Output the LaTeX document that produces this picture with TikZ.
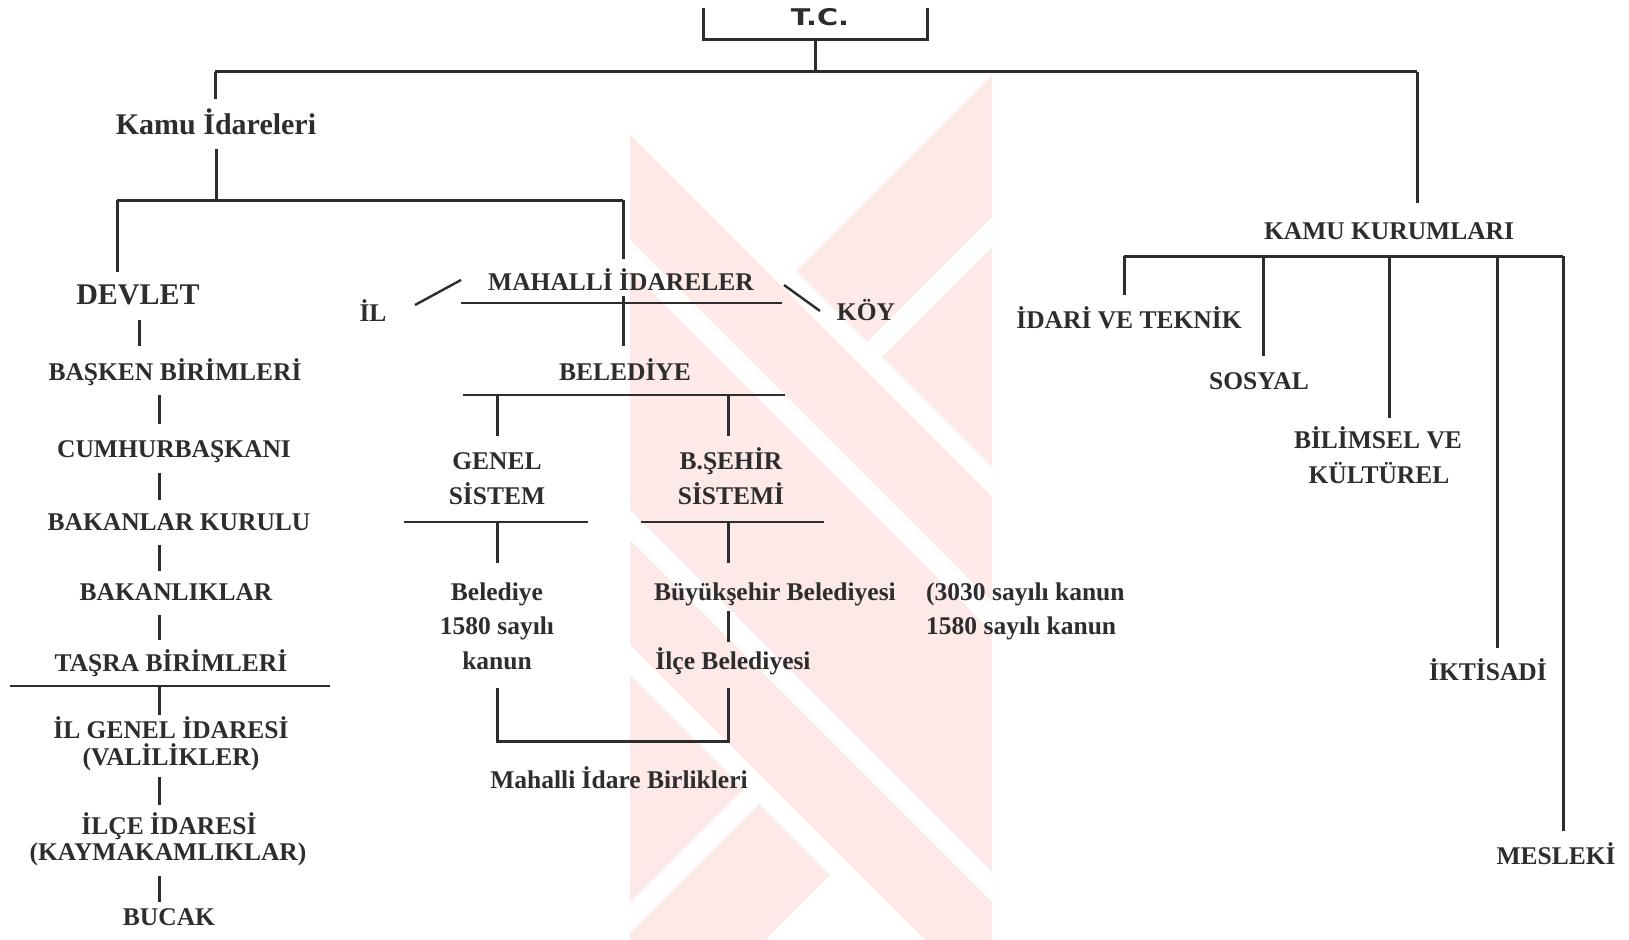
\documentclass[tikz,border=0pt]{standalone}
\usepackage{fontspec}
\setmainfont{Liberation Serif}
\newfontfamily\tcfont{DejaVu Sans}
\definecolor{ink}{RGB}{45,45,45}
\definecolor{wm}{RGB}{253,233,231}
\begin{document}
\begin{tikzpicture}[x=1pt,y=-1pt,
  lbl/.style={inner sep=0pt, anchor=base, text=ink, font=\bfseries\fontsize{25.5}{30}\selectfont},
  big/.style={lbl, font=\bfseries\fontsize{30}{34}\selectfont},
  ln/.style={draw=ink, line width=3pt},
  ul/.style={draw=ink, line width=2.4pt},
  wstripe/.style={fill=white, draw=none}]
\useasboundingbox (0,0) rectangle (1629,939);
\fill[white] (0,0) rectangle (1629,939);
% ---- watermark ----
\begin{scope}
  \clip (630,0) rectangle (992,939);
  % band B (slope -1)
  \fill[wm] (500,567) -- (1100,-33) -- (1100,605) -- (500,1205) -- cycle;
  \fill[wstripe] (500,709) -- (1100,109) -- (1100,139) -- (500,739) -- cycle;
  \fill[wstripe] (500,1033) -- (1100,433) -- (1100,463) -- (500,1063) -- cycle;
  % outline of band A
  \fill[wstripe] (500,-25) -- (1100,575) -- (1100,1145) -- (500,545) -- cycle;
  % band A (slope +1)
  \fill[wm] (500,5) -- (1100,605) -- (1100,1115) -- (500,515) -- cycle;
  \fill[wstripe] (500,110) -- (1100,710) -- (1100,740) -- (500,140) -- cycle;
  \fill[wstripe] (500,380) -- (1100,980) -- (1100,1010) -- (500,410) -- cycle;
\end{scope}
% ---- top ----
\node[inner sep=0pt, anchor=base, text=ink] (tc) at (820,26)
  {\scalebox{1.25}[1]{\tcfont\bfseries\fontsize{23}{26}\selectfont T.C.}};
\draw[ln] (703,8) coordinate (tcl) -- (703,40) -- (927,40) -- (927,8) coordinate (tcr);
\draw[ln] (815,40) coordinate (tcb) -- (815,72) coordinate (topj);
\draw[ln] (215,72) coordinate (topl) -- (1417,72) coordinate (topr);
% ---- Kamu Idareleri ----
\node[big] (kamu) at (216,135) {Kamu İdareleri};
\draw[ln] (topl) -- (215,99) coordinate (kamut);
\draw[ln] (216,149) coordinate (kamub) -- (216,200) coordinate (kamuj);
\draw[ln] (117,200) coordinate (barl) -- (623,200) coordinate (barr);
\node[big] (devlet) at (138,304) {DEVLET};
\draw[ln] (barl) -- (117,272) coordinate (devt);
\node[lbl] (mah) at (621,290) {MAHALLİ İDARELER};
\draw[ln] (barr) -- (623,259) coordinate (maht);
\draw[ul] (461,303) coordinate (mahul) -- (782,303) coordinate (mahur);
\draw[ln] (623,296) coordinate (mahb) -- (623,346) coordinate (belt);
\node[lbl] (il) at (373,321) {İL};
\node[lbl] (koy) at (866,320) {KÖY};
\draw[ul] (415,305) coordinate (ila) -- (461,280) coordinate (ilb);
\draw[ul] (784,285) coordinate (koya) -- (820,311) coordinate (koyb);
% ---- Belediye ----
\node[lbl] (bel) at (625,380) {BELEDİYE};
\draw[ul] (463,395) coordinate (belul) -- (785,395) coordinate (belur);
\draw[ln] (497,395) coordinate (g1) -- (497,436) coordinate (g2);
\draw[ln] (728,395) coordinate (s1) -- (728,436) coordinate (s2);
\node[lbl] (gen1) at (497,469) {GENEL};
\node[lbl] (gen2) at (497,504) {SİSTEM};
\node[lbl] (bs1) at (731,469) {B.ŞEHİR};
\node[lbl] (bs2) at (731,504) {SİSTEMİ};
\draw[ul] (404,522) coordinate (genul) -- (588,522) coordinate (genur);
\draw[ul] (641,522) coordinate (bsul) -- (824,522) coordinate (bsur);
\draw[ln] (497,522) coordinate (g3) -- (497,563) coordinate (g4);
\draw[ln] (728,522) coordinate (s3) -- (728,563) coordinate (s4);
\node[lbl] (b1) at (497,600.5) {Belediye};
\node[lbl] (b2) at (497,634.5) {1580 sayılı};
\node[lbl] (b3) at (497,669) {kanun};
\node[lbl] (bb) at (775,600.5) {Büyükşehir Belediyesi};
\node[lbl] (ib) at (733,669) {İlçe Belediyesi};
\draw[ln] (728,611) coordinate (s5) -- (728,642) coordinate (s6);
\node[lbl, anchor=base west] (k1) at (926,600.5) {(3030 sayılı kanun};
\node[lbl, anchor=base west] (k2) at (926,634.5) {1580 sayılı kanun};
\draw[ln] (497,688) coordinate (brl) -- (497,741) -- (728,741) -- (728,688) coordinate (brr);
\node[lbl] (mib) at (619,788.5) {Mahalli İdare Birlikleri};
% ---- Devlet column ----
\draw[ln] (139,320) coordinate (d0a) -- (139,346) coordinate (d0b);
\node[lbl] (bas) at (175,380) {BAŞKEN BİRİMLERİ};
\draw[ln] (159,395) coordinate (d1a) -- (159,424) coordinate (d1b);
\node[lbl] (cum) at (174,457.5) {CUMHURBAŞKANI};
\draw[ln] (159,473) coordinate (d2a) -- (159,500) coordinate (d2b);
\node[lbl] (bk) at (179,530.5) {BAKANLAR KURULU};
\draw[ln] (159,545) coordinate (d3a) -- (159,571) coordinate (d3b);
\node[lbl] (bakl) at (176,600.5) {BAKANLIKLAR};
\draw[ln] (159,615) coordinate (d4a) -- (159,640) coordinate (d4b);
\node[lbl] (tas) at (171,671.5) {TAŞRA BİRİMLERİ};
\draw[ul] (10,686) coordinate (tasl) -- (330,686) coordinate (tasr);
\draw[ln] (159,686) coordinate (d5a) -- (159,715) coordinate (d5b);
\node[lbl] (ilg1) at (171,738.5) {İL GENEL İDARESİ};
\node[lbl] (ilg2) at (171,765.5) {(VALİLİKLER)};
\draw[ln] (159,777) coordinate (d6a) -- (159,805) coordinate (d6b);
\node[lbl] (ilc1) at (169,834.5) {İLÇE İDARESİ};
\node[lbl] (ilc2) at (168,860.5) {(KAYMAKAMLIKLAR)};
\draw[ln] (159,876) coordinate (d7a) -- (159,902) coordinate (d7b);
\node[lbl] (buc) at (169,925.5) {BUCAK};
% ---- Kamu Kurumlari ----
\draw[ln] (topr) -- (1417,203) coordinate (kkt);
\node[lbl] (kk) at (1389,239.5) {KAMU KURUMLARI};
\draw[ln] (1124,256) coordinate (kbl) -- (1563,256) coordinate (kbr);
\draw[ln] (kbl) -- (1124,295) coordinate (r1);
\draw[ln] (1263,256) coordinate (r2a) -- (1263,356) coordinate (r2);
\draw[ln] (1389,256) coordinate (r3a) -- (1389,418) coordinate (r3);
\draw[ln] (1497,256) coordinate (r4a) -- (1497,648) coordinate (r4);
\draw[ln] (kbr) -- (1563,831) coordinate (r5);
\node[lbl] (idt) at (1129,328.5) {İDARİ VE TEKNİK};
\node[lbl] (sos) at (1259,389.5) {SOSYAL};
\node[lbl] (bil1) at (1378,448.5) {BİLİMSEL VE};
\node[lbl] (bil2) at (1379,483.5) {KÜLTÜREL};
\node[lbl] (ikt) at (1488,680.5) {İKTİSADİ};
\node[lbl] (mes) at (1556,864.5) {MESLEKİ};
\end{tikzpicture}
\end{document}
